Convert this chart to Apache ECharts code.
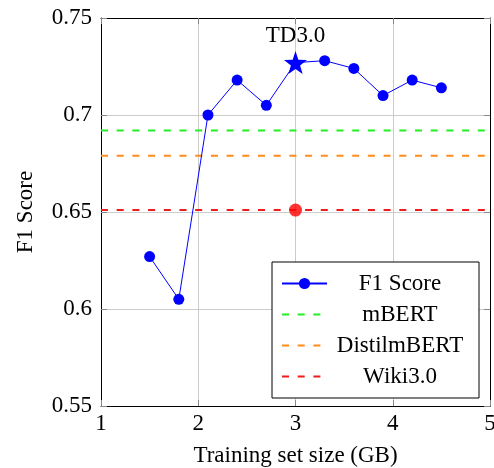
<!DOCTYPE html>
<html>
<head>
<meta charset="utf-8">
<script src="https://cdn.jsdelivr.net/npm/echarts@6/dist/echarts.min.js"></script>
<style>
  html, body { margin: 0; padding: 0; background: #fff; }
  #chart { width: 494px; height: 468px; }
</style>
</head>
<body>
<div id="chart"></div>
<script>
// training set size (GB) and F1 score
var sizes = [1.5, 1.8, 2.1, 2.4, 2.7, 3.0, 3.3, 3.6, 3.9, 4.2, 4.5];
var f1 = [0.627, 0.605, 0.700, 0.718, 0.705, 0.727, 0.728, 0.724, 0.710, 0.718, 0.714];
var bestIndex = 5;       // TD3.0, drawn as a star
var bestLabel = 'TD3.0';

// baselines (horizontal dashed lines)
var baseNames = ['mBERT', 'DistilmBERT', 'Wiki3.0'];
var baseValues = [0.692, 0.679, 0.651];
var baseColors = ['#22ee22', '#ff8c1a', '#ee1c1c'];

// Wiki3.0 point
var wikiPoint = [3.0, 0.651];

var xTicks = [1, 2, 3, 4, 5];
var yTicks = [0.55, 0.6, 0.65, 0.7, 0.75];

var serif = 'Liberation Serif';
var star = 'path://M0,-10L2.35,-3.24L9.51,-3.09L3.8,1.24L5.88,8.09L0,4L-5.88,8.09L-3.8,1.24L-9.51,-3.09L-2.35,-3.24Z';

var chart = echarts.init(document.getElementById('chart'));

var f1Data = [];
for (var i = 0; i < sizes.length; i++) {
	var item = { value: [sizes[i], f1[i]] };
	if (i === bestIndex) {
		item.symbol = star;
		item.symbolSize = 23;
		item.label = {
			show: true,
			position: 'top',
			distance: 4,
			formatter: bestLabel,
			color: '#000',
			fontFamily: serif,
			fontSize: 23
		};
	}
	f1Data.push(item);
}

var series = [];
for (var b = 0; b < baseNames.length; b++) {
	series.push({
		name: baseNames[b],
		type: 'line',
		symbol: 'none',
		color: baseColors[b],
		lineStyle: { color: baseColors[b], width: 2, type: [7, 8.7] },
		data: [[xTicks[0], baseValues[b]], [xTicks[xTicks.length - 1], baseValues[b]]],
		z: 2
	});
}
series.push({
	name: 'F1 Score',
	type: 'line',
	symbol: 'circle',
	symbolSize: 11,
	color: '#0000ff',
	lineStyle: { color: '#0000ff', width: 1 },
	itemStyle: { color: '#0000ff' },
	data: f1Data,
	z: 3
});
series.push({
	name: 'wikiPoint',
	type: 'scatter',
	symbol: 'circle',
	symbolSize: 13,
	itemStyle: { color: '#ff0000' },
	data: [wikiPoint],
	z: 4
});

var legendItems = [{ name: 'F1 Score' }];
for (var k = 0; k < baseNames.length; k++) {
	legendItems.push({ name: baseNames[k], itemStyle: { opacity: 0 } });
}

var axisCommonX = {
	type: 'value',
	min: xTicks[0],
	max: xTicks[xTicks.length - 1],
	interval: 1
};
var axisCommonY = {
	type: 'value',
	min: yTicks[0],
	max: yTicks[yTicks.length - 1],
	interval: 0.05
};

var option = {
	backgroundColor: '#fff',
	animation: false,
	grid: { left: 101, right: 4, top: 18, bottom: 62, outerBoundsMode: 'none', containLabel: false },
	xAxis: [
		Object.assign({}, axisCommonX, {
			position: 'bottom',
			name: 'Training set size (GB)',
			nameLocation: 'middle',
			nameGap: 38,
			nameTextStyle: { color: '#000', fontFamily: serif, fontSize: 23 },
			axisLine: { show: true, onZero: false, lineStyle: { color: '#000', width: 1 } },
			axisTick: { show: true, inside: true, length: 6, lineStyle: { color: '#888' } },
			axisLabel: { color: '#000', fontFamily: serif, fontSize: 23, margin: 6 },
			splitLine: { show: true, lineStyle: { color: '#cccccc', width: 1 } }
		}),
		Object.assign({}, axisCommonX, {
			position: 'top',
			axisLine: { show: true, onZero: false, lineStyle: { color: '#000', width: 1 } },
			axisTick: { show: true, inside: true, length: 6, lineStyle: { color: '#888' } },
			axisLabel: { show: false },
			splitLine: { show: false }
		})
	],
	yAxis: [
		Object.assign({}, axisCommonY, {
			position: 'left',
			name: 'F1 Score',
			nameLocation: 'middle',
			nameGap: 64,
			nameTextStyle: { color: '#000', fontFamily: serif, fontSize: 23 },
			axisLine: { show: true, onZero: false, lineStyle: { color: '#000', width: 1 } },
			axisTick: { show: true, inside: true, length: 6, lineStyle: { color: '#888' } },
			axisLabel: {
				color: '#000', fontFamily: serif, fontSize: 23, margin: 9,
				formatter: function(v) { return String(parseFloat(v.toFixed(2))); }
			},
			splitLine: { show: true, lineStyle: { color: '#cccccc', width: 1 } }
		}),
		Object.assign({}, axisCommonY, {
			position: 'right',
			axisLine: { show: true, onZero: false, lineStyle: { color: '#000', width: 1 } },
			axisTick: { show: true, inside: true, length: 6, lineStyle: { color: '#888' } },
			axisLabel: { show: false },
			splitLine: { show: false }
		})
	],
	legend: {
		data: legendItems,
		orient: 'vertical',
		left: 272,
		top: 262,
		padding: [10, 11, 10, 9],
		itemGap: 8,
		itemWidth: 45,
		itemHeight: 14,
		borderColor: '#000',
		borderWidth: 1,
		backgroundColor: '#fff',
		selectedMode: false,
		formatter: function(name) { return '{c|' + name + '}'; },
		textStyle: {
			color: '#000',
			fontFamily: serif,
			fontSize: 22,
			rich: {
				c: { width: 136, align: 'center', fontFamily: serif, fontSize: 23, lineHeight: 22, color: '#000' }
			}
		}
	},
	series: series
};

chart.setOption(option);
</script>
</body>
</html>
